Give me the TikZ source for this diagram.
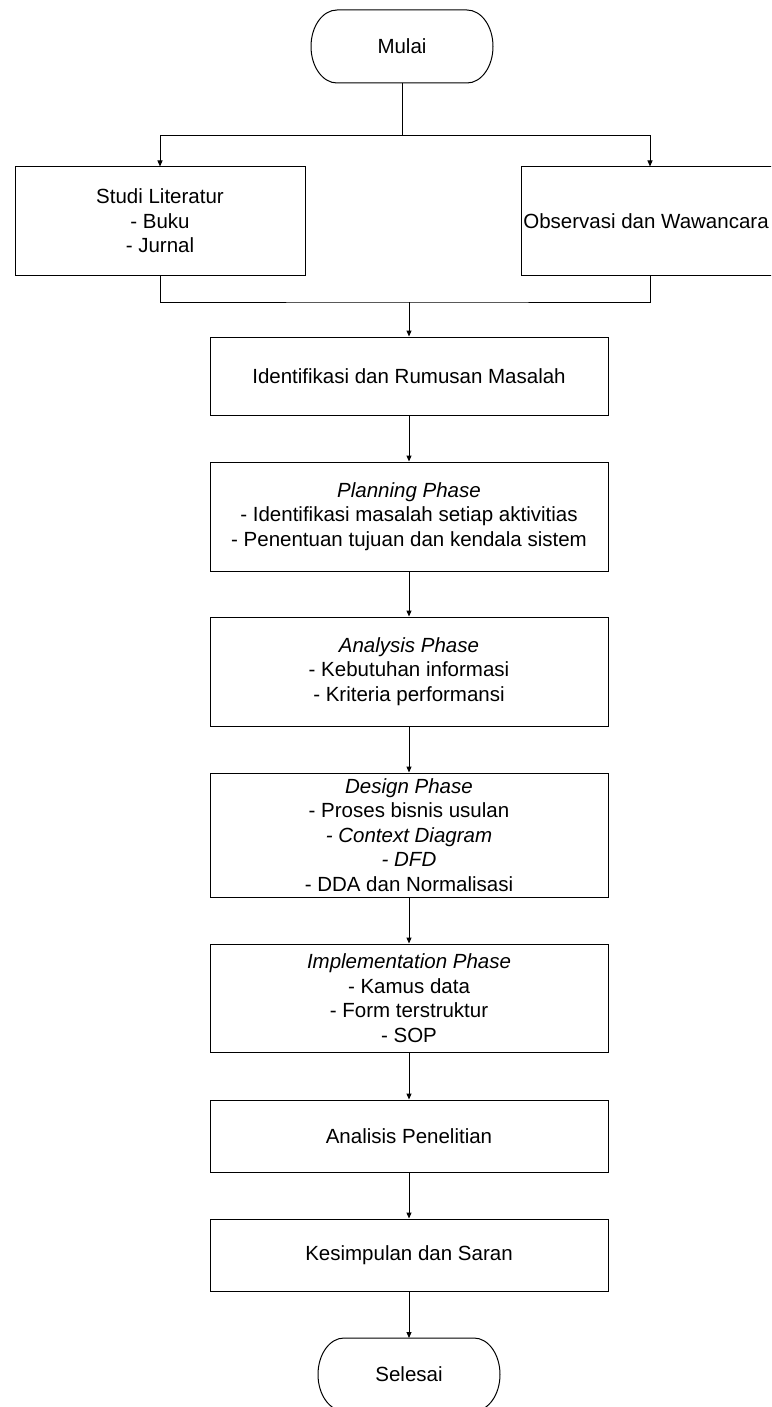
\documentclass[tikz,border=0pt]{standalone}
\usepackage{fontspec}
\setmainfont{Liberation Sans}
\usetikzlibrary{arrows.meta}

\begin{document}
\begin{tikzpicture}[x=1pt,y=-1pt,>={Triangle[length=6pt,width=5pt]},line width=1pt,
  font=\fontsize{20.5}{24.5}\selectfont,
  box/.style={draw,rectangle,align=center,inner sep=0pt,minimum width=398pt},
  terminal/.style={rectangle,inner sep=0pt,outer sep=0pt,minimum width=182pt,minimum height=73pt}]
  \newcommand*{\ColX}{409}
  \newcommand*{\EndR}{26pt}
  \newcommand*{\DrawTerminal}[1]{%
    \draw ([xshift=\EndR]#1.north west) -- ([xshift=-\EndR]#1.north east)
      arc[start angle=90,end angle=-90,x radius=\EndR,y radius=36.5pt]
      -- ([xshift=\EndR]#1.south west)
      arc[start angle=270,end angle=90,x radius=\EndR,y radius=36.5pt] -- cycle;}
  \useasboundingbox (0,0) rectangle (771,1407);
  \clip (0,0) rectangle (771,1407);
  % start and the two sources
  \node[terminal] (mulai) at (402,46.5) {Mulai};
  \DrawTerminal{mulai}
  \node[box,minimum width=290pt,minimum height=108pt] (studi) at (160,221)
    {Studi Literatur\\- Buku\\- Jurnal};
  \node[box,minimum width=258pt,minimum height=108pt] (obs) at (650,221)
    {\hspace*{-8pt}Observasi dan Wawancara};
  \coordinate (split) at (402,136);
  \coordinate (merge) at (\ColX,302);
  \draw (mulai.south) -- (split);
  \draw[->] (split) -| (studi.north);
  \draw[->] (split) -| (obs.north);
  \draw (studi.south) |- (merge) -| (obs.south);
  % main column
  \node[box,minimum height=78pt] (ident) at (\ColX,376) {Identifikasi dan Rumusan Masalah};
  \node[box,minimum height=109pt] (plan) at (\ColX,516.5)
    {\textit{Planning Phase}\\- Identifikasi masalah setiap aktivitias\\- Penentuan tujuan dan kendala sistem};
  \node[box,minimum height=109pt] (anal) at (\ColX,671.5)
    {\textit{Analysis Phase}\\- Kebutuhan informasi\\- Kriteria performansi};
  \node[box,minimum height=124pt] (design) at (\ColX,835)
    {\textit{Design Phase}\\- Proses bisnis usulan\\\textit{- Context Diagram}\\\textit{- DFD}\\- DDA dan Normalisasi};
  \node[box,minimum height=108pt] (impl) at (\ColX,998)
    {\textit{Implementation Phase}\\- Kamus data\\- Form terstruktur\\- SOP};
  \node[box,minimum height=72pt] (penel) at (\ColX,1136) {Analisis Penelitian};
  \node[box,minimum height=72pt] (kesim) at (\ColX,1255) {Kesimpulan dan Saran};
  \node[terminal] (selesai) at (\ColX,1374.5) {Selesai};
  \DrawTerminal{selesai}
  \draw[->] (merge) -- (ident.north);
  \draw[->] (ident.south) -- (plan.north);
  \draw[->] (plan.south) -- (anal.north);
  \draw[->] (anal.south) -- (design.north);
  \draw[->] (design.south) -- (impl.north);
  \draw[->] (impl.south) -- (penel.north);
  \draw[->] (penel.south) -- (kesim.north);
  \draw[->] (kesim.south) -- (selesai.north);
\end{tikzpicture}
\end{document}
